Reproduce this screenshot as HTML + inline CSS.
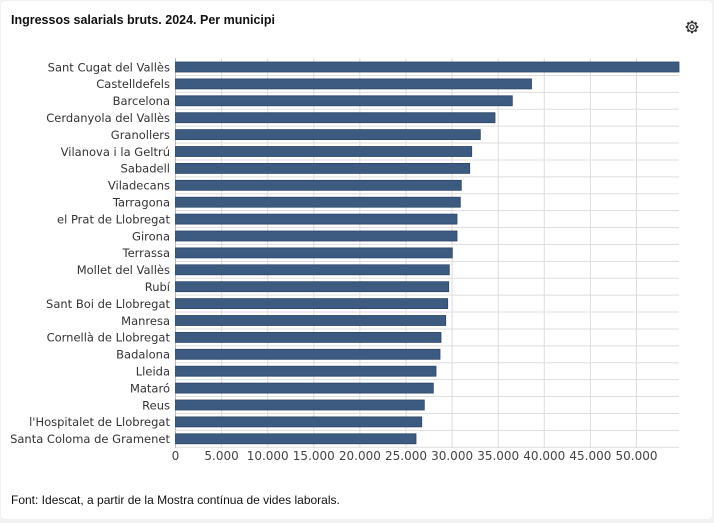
<!DOCTYPE html>
<html><head><meta charset="utf-8"><style>
body{margin:0;background:#f2f2f2;}
.card{position:absolute;left:1px;top:1px;width:711px;height:518px;background:#fff;border-radius:4px;}
svg text{font-family:"DejaVu Sans","Liberation Sans",sans-serif;}
</style></head><body>
<div class="card"></div>
<svg width="714" height="523" style="position:absolute;left:0;top:0">
<text x="11" y="24" font-size="12.5" font-weight="bold" fill="#111" style="font-family:'Liberation Sans',sans-serif">Ingressos salarials bruts. 2024. Per municipi</text>
<g transform="translate(692,27)" fill="none" stroke="#333" stroke-width="1.2">
<circle r="2"/><circle r="4.5"/>
<g stroke-width="2.2"><line x1="0" y1="-4.5" x2="0" y2="-6.3"/><line x1="0" y1="4.5" x2="0" y2="6.3"/><line x1="-4.5" y1="0" x2="-6.3" y2="0"/><line x1="4.5" y1="0" x2="6.3" y2="0"/><line x1="3.2" y1="3.2" x2="4.5" y2="4.5"/><line x1="-3.2" y1="3.2" x2="-4.5" y2="4.5"/><line x1="3.2" y1="-3.2" x2="4.5" y2="-4.5"/><line x1="-3.2" y1="-3.2" x2="-4.5" y2="-4.5"/></g>
</g>
<g id="grid" stroke="#ddd" stroke-width="1"></g>
<g id="bars"></g>
<text x="11" y="504" font-size="12" fill="#111" style="font-family:'Liberation Sans',sans-serif">Font: Idescat, a partir de la Mostra contínua de vides laborals.</text>
</svg>
<script>
var names=["Sant Cugat del Vallès","Castelldefels","Barcelona","Cerdanyola del Vallès","Granollers","Vilanova i la Geltrú","Sabadell","Viladecans","Tarragona","el Prat de Llobregat","Girona","Terrassa","Mollet del Vallès","Rubí","Sant Boi de Llobregat","Manresa","Cornellà de Llobregat","Badalona","Lleida","Mataró","Reus","l'Hospitalet de Llobregat","Santa Coloma de Gramenet"];
var ends=[679,531.5,512.3,495,480.3,471.7,469.7,461.3,460.3,457,457,452.3,449.3,448.7,447.7,445.7,441,440,436,433.3,424.3,421.7,416];
var ns="http://www.w3.org/2000/svg",g=document.getElementById("grid"),b=document.getElementById("bars");
function el(t,a,p,txt){var e=document.createElementNS(ns,t);for(var k in a)e.setAttribute(k,a[k]);if(txt)e.textContent=txt;p.appendChild(e);return e;}
var X0=175.5,S=46.1;
for(var i=0;i<23;i++){var y=67+i*16.9;
el("line",{x1:X0,x2:679,y1:y+8.45,y2:y+8.45},g);
el("rect",{x:X0,y:y-5,width:ends[i]-X0,height:10,fill:"#3d5a80",stroke:"#2c4566","stroke-width":0.8},b);
el("text",{x:170,y:y+4.3,"font-size":11.5,"text-anchor":"end",fill:"#333"},b,names[i]);}
var labs=["0","5.000","10.000","15.000","20.000","25.000","30.000","35.000","40.000","45.000","50.000"];
for(var k=0;k<11;k++){var x=X0+k*S;
if(k>0)el("line",{x1:x,x2:x,y1:58,y2:448},g);
el("text",{x:x,y:460,"font-size":12,"text-anchor":"middle",fill:"#444"},b,labs[k]);}
el("line",{x1:X0,x2:X0,y1:58,y2:448,stroke:"#bbb"},g);
</script>
</body></html>
